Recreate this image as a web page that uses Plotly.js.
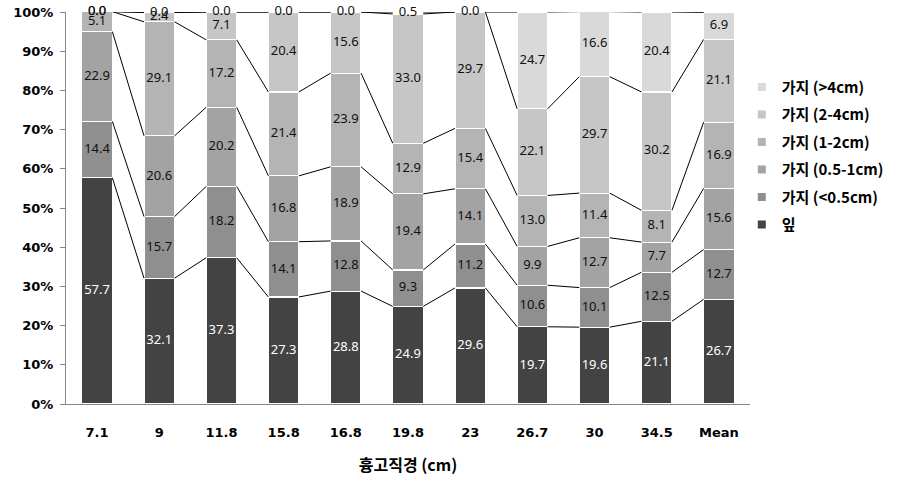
<!DOCTYPE html>
<html>
<head>
<meta charset="utf-8">
<script src="https://cdn.plot.ly/plotly-3.0.1.min.js"></script>
<style>html,body{margin:0;padding:0;background:#fff;}#chart{width:917px;height:499px;}</style>
</head>
<body>
<div id="chart"></div>
<script>
// Categories (DBH, cm)
const categories = ['7.1', '9', '11.8', '15.8', '16.8', '19.8', '23', '26.7', '30', '34.5', 'Mean'];

// Series values (%), bottom to top of each stack
const leaf      = [57.7, 32.1, 37.3, 27.3, 28.8, 24.9, 29.6, 19.7, 19.6, 21.1, 26.7];
const br_lt05   = [14.4, 15.7, 18.2, 14.1, 12.8,  9.3, 11.2, 10.6, 10.1, 12.5, 12.7];
const br_05_1   = [22.9, 20.6, 20.2, 16.8, 18.9, 19.4, 14.1,  9.9, 12.7,  7.7, 15.6];
const br_1_2    = [ 5.1, 29.1, 17.2, 21.4, 23.9, 12.9, 15.4, 13.0, 11.4,  8.1, 16.9];
const br_2_4    = [ 0.0,  2.4,  7.1, 20.4, 15.6, 33.0, 29.7, 22.1, 29.7, 30.2, 21.1];
const br_gt4    = [ 0.0,  0.0,  0.0,  0.0,  0.0,  0.5,  0.0, 24.7, 16.6, 20.4,  6.9];

const seriesNames = ['잎', '가지 (<0.5cm)', '가지 (0.5-1cm)', '가지 (1-2cm)', '가지 (2-4cm)', '가지 (>4cm)'];
const seriesData  = [leaf, br_lt05, br_05_1, br_1_2, br_2_4, br_gt4];
const seriesColors = ['#434343', '#8f8f8f', '#a3a3a3', '#b4b4b4', '#c6c6c6', '#d9d9d9'];
const labelColors  = ['#ffffff', '#111111', '#111111', '#111111', '#111111', '#111111'];

const yTicks = [0, 10, 20, 30, 40, 50, 60, 70, 80, 90, 100];

const xIdx = categories.map((c, i) => i);
const barWidth = 0.49;
const traces = [];

// stacked bars
seriesData.forEach((vals, s) => {
  traces.push({
    type: 'bar', x: xIdx, y: vals, width: barWidth, name: seriesNames[s],
    marker: {color: seriesColors[s], line: {color: '#ffffff', width: 1.2}},
    showlegend: false, hoverinfo: 'skip'
  });
});

// cumulative sums
const cums = [];
let run = categories.map(() => 0);
seriesData.forEach(vals => {
  const mids = vals.map((v, i) => Math.min(run[i] + v / 2, 100));
  run = run.map((r, i) => r + vals[i]);
  cums.push({mid: mids, top: run.slice()});
});

// series lines connecting segment tops between adjacent bars
const lx = [], ly = [];
cums.forEach(c => {
  for (let i = 0; i < categories.length - 1; i++) {
    lx.push(i + barWidth / 2, i + 1 - barWidth / 2, null);
    ly.push(c.top[i], c.top[i + 1], null);
  }
});
traces.push({type: 'scatter', mode: 'lines', x: lx, y: ly, line: {color: '#000000', width: 1},
  showlegend: false, hoverinfo: 'skip', cliponaxis: false});

// data labels
seriesData.forEach((vals, s) => {
  traces.push({
    type: 'scatter', mode: 'text', x: xIdx, y: cums[s].mid,
    text: vals.map(v => v.toFixed(1)), textposition: 'middle center',
    textfont: {family: 'Noto Sans, sans-serif', size: 13, color: labelColors[s]},
    showlegend: false, hoverinfo: 'skip', cliponaxis: false
  });
});

// legend entries (top to bottom)
for (let s = seriesNames.length - 1; s >= 0; s--) {
  traces.push({
    type: 'scatter', mode: 'markers', x: [null], y: [null], name: seriesNames[s],
    legendgroup: 'g' + s,
    marker: {symbol: 'square', size: 8, color: seriesColors[s]}
  });
}

const layout = {
  width: 917, height: 499,
  margin: {l: 66, r: 167, t: 11.5, b: 94.5},
  paper_bgcolor: '#ffffff', plot_bgcolor: '#ffffff',
  barmode: 'stack', bargap: 0.5,
  showlegend: true,
  legend: {x: 0.988, xanchor: 'left', y: 0.85, yanchor: 'top', traceorder: 'grouped',
    tracegroupgap: 5, font: {family: 'Noto Sans CJK KR, sans-serif', size: 15, color: '#000000', weight: 'bold'},
    bgcolor: 'rgba(0,0,0,0)'},
  xaxis: {
    range: [-0.5, 10.5], tickvals: xIdx, ticktext: categories,
    showgrid: false, zeroline: false, showline: true, linecolor: '#868686', linewidth: 1,
    ticks: '', ticklabelstandoff: 16,
    tickfont: {family: 'DejaVu Sans, sans-serif', size: 13, color: '#000000', weight: 'bold'},
    title: {text: '흉고직경 (cm)', standoff: 21,
      font: {family: 'Noto Sans CJK KR, sans-serif', size: 16, color: '#000000', weight: 'bold'}}
  },
  yaxis: {
    range: [0, 100], tickvals: yTicks, ticktext: yTicks.map(v => v + '%'),
    showgrid: false, zeroline: false, showline: true, linecolor: '#868686', linewidth: 1,
    ticks: 'outside', ticklen: 5, tickcolor: '#868686', ticklabelstandoff: 4,
    tickfont: {family: 'DejaVu Sans, sans-serif', size: 13, color: '#000000', weight: 'bold'}
  }
};

Plotly.newPlot('chart', traces, layout, {displayModeBar: false, staticPlot: true});
</script>
</body>
</html>
